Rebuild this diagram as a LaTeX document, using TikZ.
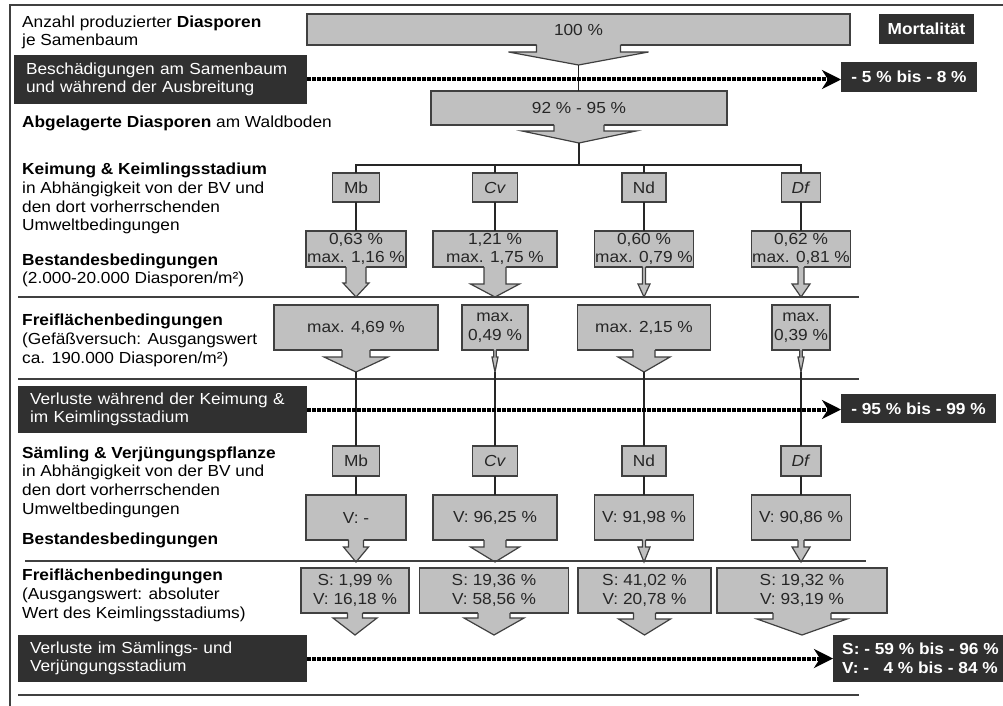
\documentclass[tikz,border=0pt]{standalone}
\usepackage{fontspec}
\setmainfont{Liberation Sans}[FakeStretch=1.08]
\usepackage{tikz}
\usetikzlibrary{arrows.meta,calc,positioning}
\definecolor{dkgrey}{RGB}{48,48,48}
\definecolor{bxgrey}{RGB}{192,192,192}
\definecolor{lngrey}{RGB}{64,64,64}
% block arrow under a box: node, shaft half width, head half width, shaft length, total length
\newcommand{\dnarrow}[5]{%
  \fill[bxgrey] ($(#1.south)+(-#2,-1)$) -- ($(#1.south)+(-#2,#4)$) -- ($(#1.south)+(-#3,#4)$) -- ($(#1.south)+(0,#5)$) coordinate (#1-tip) -- ($(#1.south)+(#3,#4)$) -- ($(#1.south)+(#2,#4)$) -- ($(#1.south)+(#2,-1)$) -- cycle;
  \draw[draw=lngrey,line width=1.2pt] ($(#1.south)+(-#2,0)$) -- ($(#1.south)+(-#2,#4)$) -- ($(#1.south)+(-#3,#4)$) -- ($(#1.south)+(0,#5)$) -- ($(#1.south)+(#3,#4)$) -- ($(#1.south)+(#2,#4)$) -- ($(#1.south)+(#2,0)$);}

\begin{document}
\begin{tikzpicture}[x=1pt,y=-1pt,font=\fontsize{16}{18.7}\selectfont,
    lbl/.style={anchor=base west,align=left,inner sep=0},
    gbox/.style={draw=lngrey,fill=bxgrey,line width=1.2pt,inner sep=0,outer sep=0,align=center,text=black!85},
    dbox/.style={fill=dkgrey,text=white,inner xsep=12pt,inner ysep=0,outer sep=0,align=left},
    rbox/.style={fill=dkgrey,text=white,inner sep=0,outer sep=0,align=left,font=\fontsize{16}{18.7}\selectfont\bfseries},
    conn/.style={draw=black!85,line width=1.1pt},
    sep/.style={draw=lngrey,line width=1.2pt},
    loss/.style={line width=4pt,dash pattern=on 3.5pt off 1.5pt,-{Stealth[length=19pt,width=19pt,inset=6pt]}}]
  \useasboundingbox (0,0) rectangle (1003,706);
  \draw[sep] (1003,5) -- (10,5) -- (10,706);

  % seeds per tree
  \node[lbl] (t1) at (22,46) {Anzahl produzierter \textbf{Diasporen}\\je Samenbaum};
  \node[gbox,minimum width=543pt,minimum height=31pt] (b100) at (578.5,29.5) {100 \%};
  \dnarrow{b100}{42}{70}{7}{20}
  \node[rbox,minimum width=95pt,minimum height=30pt] (mort) at (926.5,29) {Mortalität};
  \node[dbox,text width=269pt,minimum height=49pt] (dmg) at (160.5,79.5) {Beschädigungen am Samenbaum\\und während der Ausbreitung};
  \node[rbox,minimum width=136pt,minimum height=30pt] (l1) at (909,77) {- 5 \% bis - 8 \%};
  \node[gbox,minimum width=296pt,minimum height=34pt] (b92) at (579,108) {92 \% - 95 \%};
  \dnarrow{b92}{25}{57}{6}{18}
  \draw[conn] (b100-tip) -- (b100-tip |- b92.north);
  \draw[loss] (dmg.east) -- (dmg.east -| l1.west);
  \node[lbl] (t2) at (22,127.7) {\textbf{Abgelagerte Diasporen} am Waldboden};

  % germination
  \node[lbl] (t3) at (22,230.7) {\textbf{Keimung \& Keimlingsstadium}\\in Abhängigkeit von der BV und\\den dort vorherrschenden\\Umweltbedingungen};
  \node[lbl] (t4) at (22,283.8) {\textbf{Bestandesbedingungen}\\(2.000-20.000 Diasporen/m²)};
  \node[gbox,minimum width=47pt,minimum height=29pt] (mbk) at (356,187.5) {Mb};
  \node[gbox,minimum width=45pt,minimum height=29pt] (cvk) at (495,187.5) {\textit{Cv}};
  \node[gbox,minimum width=44pt,minimum height=29pt] (ndk) at (644,187.5) {Nd};
  \node[gbox,minimum width=39pt,minimum height=29pt] (dfk) at (801,187.5) {\textit{Df}};
  \coordinate (fork) at (579,165);
  \draw[conn] (b92-tip) -- (fork);
  \draw[conn] (mbk.north) |- (fork) -| (dfk.north);
  \draw[conn] (cvk.north) -- (cvk.north |- fork); \draw[conn] (ndk.north) -- (ndk.north |- fork);
  \node[gbox,minimum width=100pt,minimum height=36pt] (mbb) at (356,249) {0,63 \%\\max. 1,16 \%};
  \node[gbox,minimum width=124pt,minimum height=36pt] (cvb) at (495,249) {1,21 \%\\max. 1,75 \%};
  \node[gbox,minimum width=99pt,minimum height=36pt] (ndb) at (644,249) {0,60 \%\\max. 0,79 \%};
  \node[gbox,minimum width=99pt,minimum height=36pt] (dfb) at (801,249) {0,62 \%\\max. 0,81 \%};
  \draw[conn] (mbk) -- (mbb); \draw[conn] (cvk) -- (cvb); \draw[conn] (ndk) -- (ndb); \draw[conn] (dfk) -- (dfb);
  \dnarrow{mbb}{10}{13}{16}{30} \dnarrow{cvb}{11}{24.5}{17}{30}
  \dnarrow{ndb}{1.5}{6}{17}{30} \dnarrow{dfb}{3}{9}{17}{30}
  \draw[sep] (18,297) -- (859,297);

  % open field
  \node[lbl] (t5) at (22,363.1) {\textbf{Freiflächenbedingungen}\\(Gefäßversuch: Ausgangswert\\ca. 190.000 Diasporen/m²)};
  \node[gbox,minimum width=164pt,minimum height=45pt] (mbf) at (356,327.5) {max. 4,69 \%};
  \node[gbox,minimum width=66pt,minimum height=45pt] (cvf) at (495,327.5) {max.\\0,49 \%};
  \node[gbox,minimum width=133pt,minimum height=45pt] (ndf) at (644,327.5) {max. 2,15 \%};
  \node[gbox,minimum width=58pt,minimum height=45pt] (dff) at (801,327.5) {max.\\0,39 \%};
  \dnarrow{mbf}{14}{32}{7}{22} \dnarrow{cvf}{1.2}{3}{7}{22}
  \dnarrow{ndf}{11}{26}{7}{22} \dnarrow{dff}{1.2}{3}{7}{22}
  \draw[sep] (18,379) -- (859,379);

  % seedlings
  \node[dbox,text width=265pt,minimum height=47pt] (vk) at (162.5,409.5) {Verluste während der Keimung \&\\im Keimlingsstadium};
  \node[rbox,minimum width=155pt,minimum height=29pt] (l2) at (918.5,408.5) {- 95 \% bis - 99 \%};
  \node[lbl] (t6) at (22,514.3) {\textbf{Sämling \& Verjüngungspflanze}\\in Abhängigkeit von der BV und\\den dort vorherrschenden\\Umweltbedingungen};
  \node[lbl] (t7) at (22,544.3) {\textbf{Bestandesbedingungen}};
  \node[gbox,minimum width=47pt,minimum height=30pt] (mbs) at (356,461) {Mb};
  \node[gbox,minimum width=45pt,minimum height=30pt] (cvs) at (495,461) {\textit{Cv}};
  \node[gbox,minimum width=44pt,minimum height=30pt] (nds) at (644,461) {Nd};
  \node[gbox,minimum width=40pt,minimum height=30pt] (dfs) at (801,461) {\textit{Df}};
  \draw[conn] (mbf-tip) -- (mbs); \draw[conn] (cvf-tip) -- (cvs); \draw[conn] (ndf-tip) -- (nds); \draw[conn] (dff-tip) -- (dfs);
  \draw[loss] (vk.east) -- (vk.east -| l2.west);
  \node[gbox,minimum width=100pt,minimum height=45pt] (mbv) at (356,517.5) {V: -};
  \node[gbox,minimum width=124pt,minimum height=45pt] (cvv) at (495,517.5) {V: 96,25 \%};
  \node[gbox,minimum width=99pt,minimum height=45pt] (ndv) at (644,517.5) {V: 91,98 \%};
  \node[gbox,minimum width=99pt,minimum height=45pt] (dfv) at (801,517.5) {V: 90,86 \%};
  \draw[conn] (mbs) -- (mbv); \draw[conn] (cvs) -- (cvv); \draw[conn] (nds) -- (ndv); \draw[conn] (dfs) -- (dfv);
  \dnarrow{mbv}{7.5}{12.5}{7}{22} \dnarrow{cvv}{11}{24.5}{7}{22}
  \dnarrow{ndv}{1.5}{6}{7}{22} \dnarrow{dfv}{3}{9}{7}{22}
  \draw[sep] (25,561) -- (866,561);

  % open field, seedlings
  \node[lbl] (t8) at (22,618) {\textbf{Freiflächenbedingungen}\\(Ausgangswert: absoluter\\Wert des Keimlingsstadiums)};
  \node[gbox,minimum width=108pt,minimum height=45pt] (mbr) at (355,590.5) {S: 1,99 \%\\V: 16,18 \%};
  \node[gbox,minimum width=149pt,minimum height=45pt] (cvr) at (494,590.5) {S: 19,36 \%\\V: 58,56 \%};
  \node[gbox,minimum width=133pt,minimum height=45pt] (ndr) at (644.5,590.5) {S: 41,02 \%\\V: 20,78 \%};
  \node[gbox,minimum width=170pt,minimum height=45pt] (dfr) at (802,590.5) {S: 19,32 \%\\V: 93,19 \%};
  \dnarrow{mbr}{7.5}{22}{5}{22} \dnarrow{cvr}{16}{30}{5}{22}
  \dnarrow{ndr}{11}{26}{6}{22} \dnarrow{dfr}{29}{45}{6}{22}
  \node[dbox,text width=265pt,minimum height=47pt] (vs) at (162.5,658.5) {Verluste im Sämlings- und\\Verjüngungsstadium};
  \node[rbox,minimum width=175pt,minimum height=47pt] (l3) at (920.5,658.5) {S: - 59 \% bis - 96 \%\\V: - \phantom{5}4 \% bis - 84 \%};
  \draw[loss] (vs.east) -- (vs.east -| l3.west);
  \draw[sep] (18,695) -- (859,695);
\end{tikzpicture}
\end{document}
